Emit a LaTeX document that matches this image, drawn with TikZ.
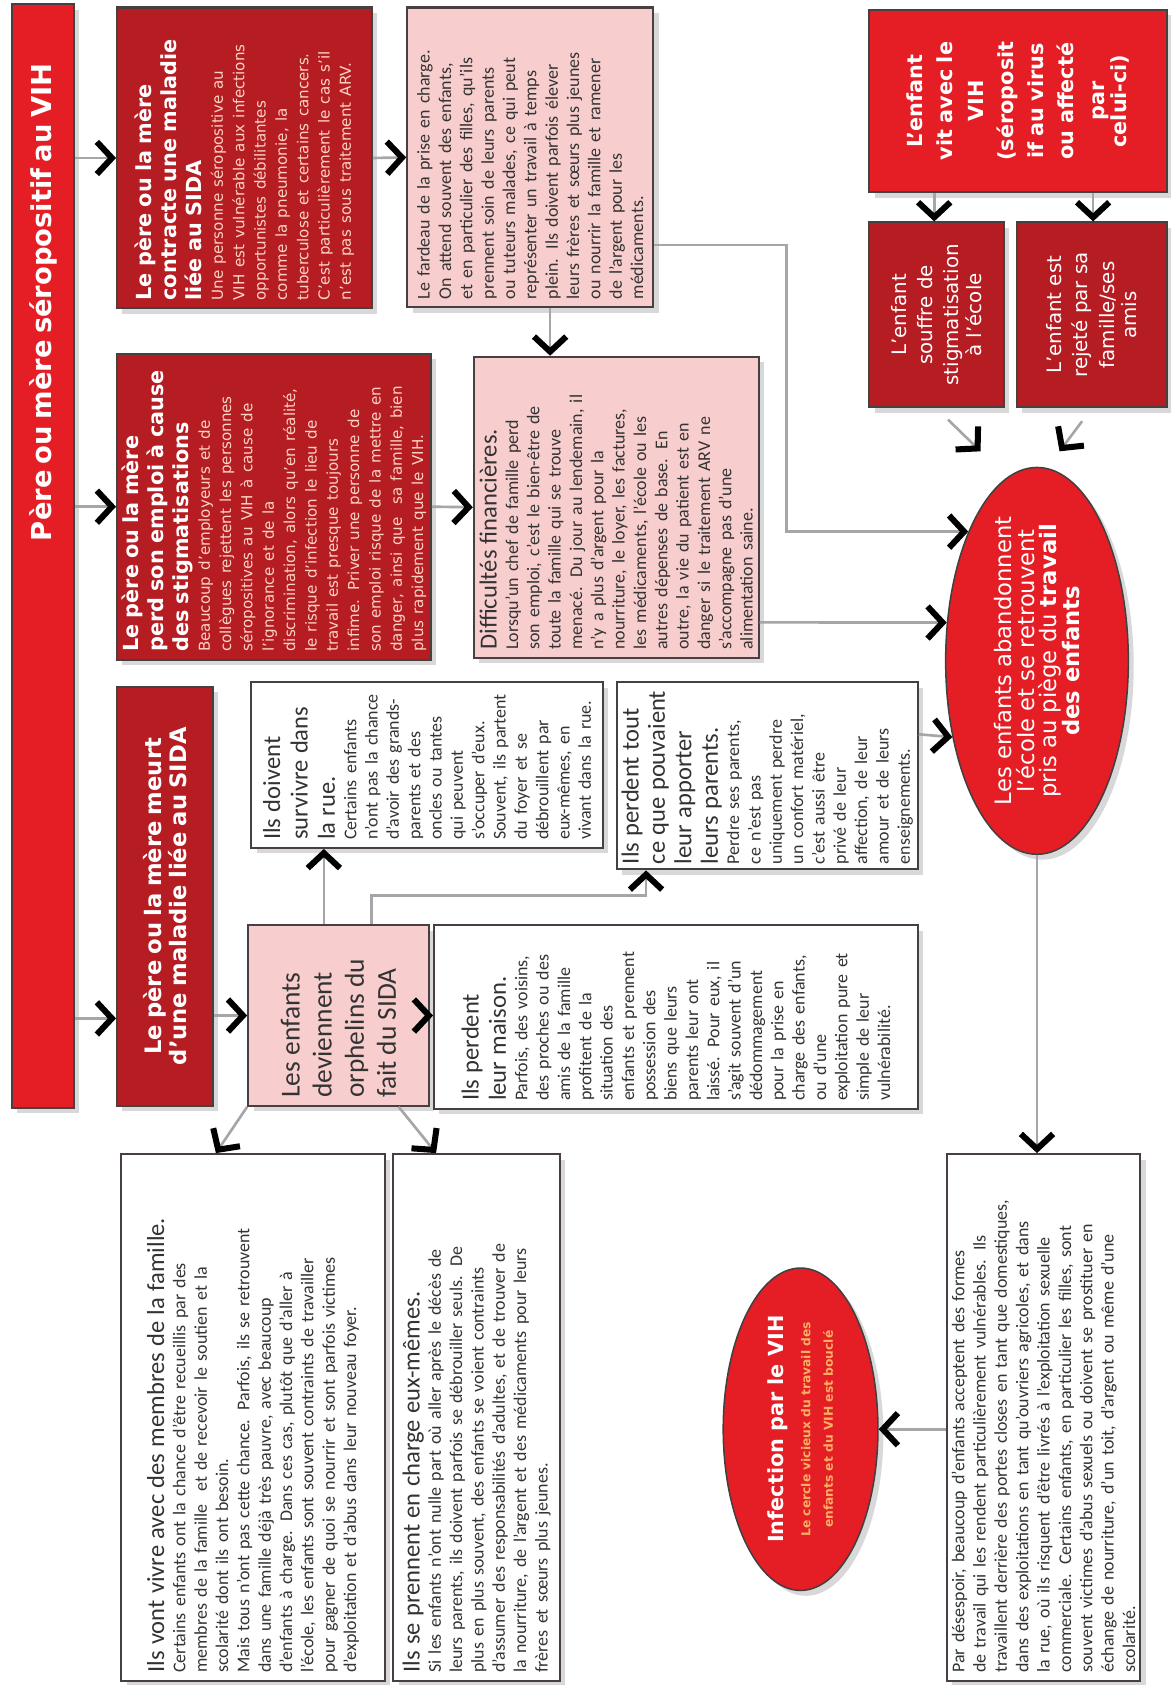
\documentclass[tikz,border=0pt]{standalone}
\usepackage{fontspec}
\setmainfont{Carlito}
\newfontfamily\headfont{DejaVu Sans}
\usetikzlibrary{
  arrows.meta,
  calc,
  shapes.geometric,
  shadows
}
\definecolor{hivRed}{RGB}{228,30,36}
\definecolor{hivDark}{RGB}{181,29,35}
\definecolor{hivPink}{RGB}{247,205,205}
\definecolor{hivLine}{RGB}{72,64,64}
\definecolor{hivWire}{RGB}{165,165,170}
\definecolor{hivSoft}{RGB}{252,212,196}
\definecolor{hivGold}{RGB}{250,175,100}
\newcommand{\hivtitle}{\headfont\bfseries\fontsize{14.5}{16}\selectfont}
\newcommand{\hivhead}{\headfont\bfseries\fontsize{11}{13.3}\selectfont}
\newcommand{\hivsmall}{\headfont\fontsize{8}{11.3}\selectfont}
\newcommand{\hivlead}{\fontsize{13}{14.5}\selectfont}
\newcommand{\hivtext}{\fontsize{9.5}{11.3}\selectfont}
\newcommand{\hivnote}{\color{hivGold}\headfont\bfseries\fontsize{6.5}{8}\selectfont}
\tikzset{
  hivbase/.style={
    draw=hivLine,
    line width=1.1pt,
    anchor=north west,
    align=left,
    inner xsep=1.5mm,
    inner ysep=0.6mm,
    drop shadow={opacity=0.3, shadow xshift=1mm, shadow yshift=-1mm}
  },
  redbox/.style={hivbase, fill=hivDark, text=white},
  brightbox/.style={hivbase, fill=hivRed, text=white},
  pinkbox/.style={hivbase, fill=hivPink, text=black!80},
  whitebox/.style={hivbase, fill=white, text=black!80},
  hivoval/.style={
    ellipse,
    draw=black!75,
    line width=0.8pt,
    fill=hivRed,
    text=white,
    align=center,
    inner xsep=-15mm,
    inner ysep=-8mm,
    drop shadow={opacity=0.3, shadow xshift=1mm, shadow yshift=-1mm}
  },
  hivarrow/.style={
    draw=hivWire,
    line width=1.4pt,
    -{Straight Barb[length=2.8mm, width=6mm, line width=3.2pt, color=black]}
  }
}

\begin{document}
\begin{tikzpicture}[x=0.2mm, y=0.2mm, rotate=90, transform shape]
  \fill[white] (0,0) rectangle (1568,1089);
  \useasboundingbox (0,0) rectangle (1568,1089);

  \node[brightbox, minimum width=205.4mm, minimum height=11.6mm, text width=183.4mm,
    align=right, inner xsep=11mm, inner ysep=0mm] (T) at (536,1079)
    {\hivtitle Père ou mère séropositif au VIH};

  % first row: what happens to the parent
  \node[redbox, minimum width=56mm, minimum height=47.4mm, text width=53mm] (A) at (1280,981)
    {{\hivhead Le père ou la mère\\contracte une maladie\\liée au SIDA\par}
     {\hivsmall\color{hivSoft}Une personne séropositive au\\VIH est vulnérable aux infections\\opportunistes débilitantes\\comme la pneumonie, la\\tuberculose et certains cancers.\\C’est particulièrement le cas s’il\\n’est pas sous traitement ARV.\par}};
  \node[redbox, minimum width=57mm, minimum height=58.4mm, text width=54mm] (B) at (953,981)
    {{\hivhead Le père ou la mère\\perd son emploi à cause\\des stigmatisations\par}
     {\hivsmall\color{hivSoft}Beaucoup d’employeurs et de\\collègues rejettent les personnes\\séropositives au VIH à cause de\\l’ignorance et de la\\discrimination, alors qu’en réalité,\\le risque d’infection le lieu de\\travail est presque toujours\\infime. Priver une personne de\\son emploi risque de la mettre en\\danger, ainsi que \ sa famille, bien\\plus rapidement que le VIH.\par}};
  \node[redbox, align=center, minimum width=78mm, minimum height=17.8mm, text width=75mm] (C) at (538,981)
    {\headfont\bfseries\fontsize{12}{16}\selectfont Le père ou la mère meurt\\d’une maladie liée au SIDA};

  % second row
  \node[pinkbox, minimum width=55.8mm, minimum height=45.8mm, text width=52.8mm] (D) at (1281,711)
    {\hivtext Le fardeau de la prise en charge.\\On attend souvent des enfants,\\et en particulier des filles, qu’ils\\prennent soin de leurs parents\\ou tuteurs malades, ce qui peut\\représenter un travail à temps\\plein. Ils doivent parfois élever\\leurs frères et sœurs plus jeunes\\ou nourrir la famille et ramener\\de l’argent pour les\\médicaments.\par};
  \node[pinkbox, minimum width=56mm, minimum height=53mm, text width=53mm] (E) at (955,649)
    {{\hivlead Difficultés financières.\par}
     {\hivtext Lorsqu’un chef de famille perd\\son emploi, c’est le bien-être de\\toute la famille qui se trouve\\menacé. Du jour au lendemain, il\\n’y a plus d’argent pour la\\nourriture, le loyer, les factures,\\les médicaments, l’école ou les\\autres dépenses de base. En\\outre, la vie du patient est en\\danger si le traitement ARV ne\\s’accompagne pas d’une\\alimentation saine.\par}};
  \node[whitebox, minimum width=30.8mm, minimum height=65.4mm, text width=27.8mm] (F) at (778,856)
    {{\hivlead Ils doivent\\survivre dans\\la rue.\par}
     {\hivtext Certains enfants\\n’ont pas la chance\\d’avoir des grands-\\parents et des\\oncles ou tantes\\qui peuvent\\s’occuper d’eux.\\Souvent, ils partent\\du foyer et se\\débrouillent par\\eux-mêmes, en\\vivant dans la rue.\par}};
  \node[whitebox, minimum width=34.8mm, minimum height=56mm, text width=32.8mm,
    inner xsep=1mm, inner ysep=0.3mm] (G) at (758,516)
    {{\fontsize{13}{14}\selectfont Ils perdent tout\\\mbox{ce que pouvaient}\\leur apporter\\leurs parents.\par}
     {\hivtext Perdre ses parents,\\ce n’est pas\\uniquement perdre\\un confort matériel,\\c’est aussi être\\privé de leur\\affection, de leur\\amour et de leurs\\enseignements.\par}};
  \node[pinkbox, minimum width=33.6mm, minimum height=33.6mm, text width=30.6mm] (H) at (538,859)
    {\fontsize{14.5}{17}\selectfont Les enfants\\deviennent\\orphelins du\\fait du SIDA\par};
  \node[whitebox, minimum width=34.2mm, minimum height=90mm, text width=31.2mm] (I) at (535,686)
    {{\hivlead Ils perdent\\leur maison.\par}
     {\hivtext Parfois, des voisins,\\des proches ou des\\amis de la famille\\profitent de la\\situation des\\enfants et prennent\\possession des\\biens que leurs\\parents leur ont\\laissé. Pour eux, il\\s’agit souvent d’un\\dédommagement\\pour la prise en\\charge des enfants,\\ou d’une\\exploitation pure et\\simple de leur\\vulnérabilité.\par}};

  % third row
  \node[whitebox, minimum width=98mm, minimum height=49mm, text width=95mm] (J) at (3,977)
    {{\hivlead Ils vont vivre avec des membres de la famille.\par}
     {\hivtext Certains enfants ont la chance d’être recueillis par des\\membres de la famille \ et de recevoir le soutien et la\\scolarité dont ils ont besoin.\\Mais tous n’ont pas cette chance. Parfois, ils se retrouvent\\dans une famille déjà très pauvre, avec beaucoup\\d’enfants à charge. Dans ces cas, plutôt que d’aller à\\l’école, les enfants sont souvent contraints de travailler\\pour gagner de quoi se nourrir et sont parfois victimes\\d’exploitation et d’abus dans leur nouveau foyer.\par}};
  \node[whitebox, minimum width=98mm, minimum height=31mm, text width=95mm] (K) at (3,724)
    {{\hivlead Ils se prennent en charge eux-mêmes.\par}
     {\hivtext Si les enfants n’ont nulle part où aller après le décès de\\leurs parents, ils doivent parfois se débrouiller seuls. De\\plus en plus souvent, des enfants se voient contraints\\d’assumer des responsabilités d’adultes, et de trouver de\\la nourriture, de l’argent et des médicaments pour leurs\\frères et sœurs plus jeunes.\par}};
  \node[whitebox, minimum width=98mm, minimum height=36mm, text width=95mm] (M) at (3,209)
    {\hivtext Par désespoir, beaucoup d’enfants acceptent des formes\\de travail qui les rendent particulièrement vulnérables. Ils\\travaillent derrière des portes closes en tant que domestiques,\\dans des exploitations en tant qu’ouvriers agricoles, et dans\\la rue, où ils risquent d’être livrés à l’exploitation sexuelle\\commerciale. Certains enfants, en particulier les filles, sont\\souvent victimes d’abus sexuels ou doivent se prostituer en\\échange de nourriture, d’un toit, d’argent ou même d’une\\scolarité.\par};

  \node[hivoval, minimum width=60mm, minimum height=28.8mm] (L) at (238,344)
    {\hivhead Infection par le VIH\\[2pt]
     \hivnote Le cercle vicieux du travail des\\\hivnote enfants et du VIH est bouclé};

  % the child living with HIV
  \node[brightbox, align=center, minimum width=34mm, minimum height=55.4mm, text width=31mm] (N) at (1388,281)
    {\headfont\bfseries\fontsize{11}{16}\selectfont L’enfant\\vit avec le\\VIH\\(séroposit\\if au virus\\ou affecté\\par\\celui-ci)};
  \node[redbox, align=center, minimum width=34.4mm, minimum height=25mm, text width=32.4mm,
    inner xsep=1mm] (O) at (1188,281)
    {\headfont\fontsize{10.5}{14}\selectfont L’enfant\\souffre de\\stigmatisation\\à l’école};
  \node[redbox, align=center, minimum width=34.4mm, minimum height=28mm, text width=32.4mm,
    inner xsep=1mm] (P) at (1188,144)
    {\headfont\fontsize{10.5}{14}\selectfont L’enfant est\\rejeté par sa\\famille/ses\\amis};

  \node[hivoval, minimum width=72mm, minimum height=34mm] (Q) at (953,124)
    {\headfont\fontsize{12}{16}\selectfont Les enfants abandonnent\\\headfont\fontsize{12}{16}\selectfont l’école et se retrouvent\\\headfont\fontsize{12}{16}\selectfont pris au piège du \textbf{travail}\\\headfont\bfseries\fontsize{12}{16}\selectfont des enfants};

  % connectors
  \coordinate (cin) at ($(C.north west)!0.21!(C.north east)$);
  \draw[hivarrow] ($(T.south west)!(A.north)!(T.south east)$) -- (A.north);
  \draw[hivarrow] ($(T.south west)!(B.north)!(T.south east)$) -- (B.north);
  \draw[hivarrow] ($(T.south west)!(cin)!(T.south east)$) -- (cin);
  \draw[hivarrow] ($(C.south west)!(H.north)!(C.south east)$) -- (H.north);
  \draw[hivarrow] (H.south) -- ($(I.north west)!(H.south)!(I.north east)$);

  \draw[hivarrow] (A.south) -- (D.north);
  \draw[hivarrow] (B.south) -- (E.north);
  \coordinate (dw) at ($(D.south west)!0.42!(D.north west)$);
  \draw[hivarrow] (dw) -- ($(E.south east)!(dw)!(E.north east)$);
  \coordinate (ds) at ($(D.south west)!0.21!(D.south east)$);
  \draw[hivarrow] (ds) -- ++(0,-123) -| (Q.28);
  \coordinate (es) at ($(E.south west)!0.12!(E.south east)$);
  \draw[hivarrow] (es) -- (Q.67);
  \coordinate (gs) at ($(G.south west)!0.72!(G.south east)$);
  \draw[hivarrow] (gs) -- (Q.132);

  \coordinate (he) at ($(H.south east)!0.58!(H.north east)$);
  \draw[hivarrow] (he) -- ($(F.south west)!(he)!(F.north west)$);
  \coordinate (hg) at ($(H.south east)!0.32!(H.north east)$);
  \coordinate (gw) at ($(G.south west)!0.9!(G.north west)$);
  \draw[hivarrow] (hg) -- ++(27,0) |- (gw);
  \draw[hivarrow] (H.north west) -- ($(J.south east)!0.64!(J.north east)$);
  \draw[hivarrow] ($(H.south west)!0.17!(H.north west)$) -- ($(K.south east)!0.74!(K.north east)$);

  \coordinate (nw1) at ($(N.south west)!0.78!(N.north west)$);
  \coordinate (nw2) at ($(N.south west)!0.25!(N.north west)$);
  \draw[hivarrow] (nw1) -- ($(O.south east)!(nw1)!(O.north east)$);
  \draw[hivarrow] (nw2) -- ($(P.south east)!(nw2)!(P.north east)$);
  \coordinate (oq) at ($(O.west)+(-40,-41)$);
  \coordinate (pq) at ($(P.west)+(-40,30)$);
  \draw[hivarrow, shorten <=3mm] (O.west) -- (oq);
  \draw[hivarrow, shorten <=3mm] (P.west) -- (pq);

  \draw[hivarrow] (Q.west) -- ($(M.south east)!(Q.west)!(M.north east)$);
  \draw[hivarrow] ($(M.north west)!(L.south)!(M.north east)$) -- (L.south);
\end{tikzpicture}
\end{document}
